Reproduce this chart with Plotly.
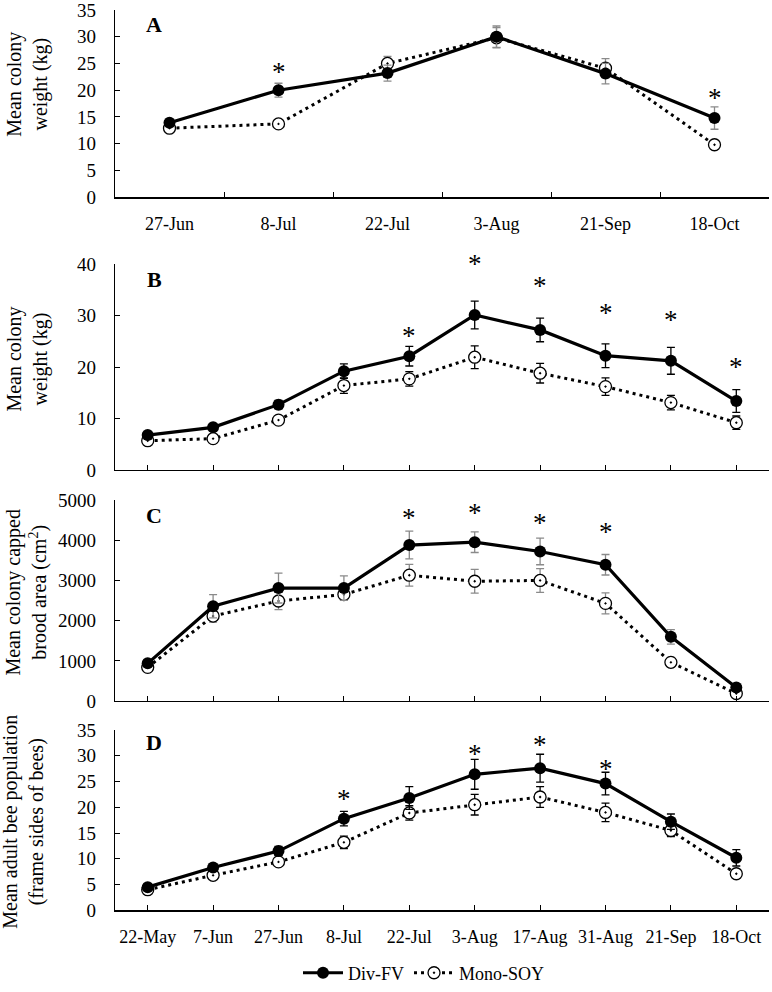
import plotly.graph_objects as go

FONT = "Liberation Serif, Times New Roman, serif"

# ---------------- data ----------------
dates_a = ["27-Jun", "8-Jul", "22-Jul", "3-Aug", "21-Sep", "18-Oct"]
a_div = [13.9, 20.0, 23.2, 30.0, 23.1, 14.8]
a_div_err = [0.7, 1.3, 1.5, 2.0, 1.9, 2.1]
a_mono = [12.9, 13.7, 25.0, 29.8, 24.1, 9.8]
a_mono_err = [0.5, 0.5, 1.3, 1.9, 1.8, 0.8]
a_star_x = ["8-Jul", "18-Oct"]
a_star_y = [24.4, 19.5]

dates = ["22-May", "7-Jun", "27-Jun", "8-Jul", "22-Jul", "3-Aug", "17-Aug",
         "31-Aug", "21-Sep", "18-Oct"]

b_div = [6.8, 8.3, 12.7, 19.2, 22.1, 30.1, 27.2, 22.2, 21.2, 13.4]
b_div_err = [0.5, 0.5, 0.8, 1.4, 1.9, 2.7, 2.3, 2.3, 2.6, 2.2]
b_mono = [5.7, 6.1, 9.7, 16.4, 17.7, 21.9, 18.8, 16.2, 13.1, 9.2]
b_mono_err = [0.4, 0.4, 0.6, 1.5, 1.4, 2.2, 1.9, 1.7, 1.4, 1.3]
b_star_x = ["22-Jul", "3-Aug", "17-Aug", "31-Aug", "21-Sep", "18-Oct"]
b_star_y = [26.9, 40.9, 36.6, 31.5, 30.0, 21.0]

c_div = [940, 2360, 2810, 2810, 3880, 3950, 3720, 3390, 1600, 340]
c_div_err = [80, 290, 370, 305, 345, 255, 330, 255, 180, 50]
c_mono = [840, 2115, 2490, 2650, 3130, 2980, 3000, 2430, 965, 190]
c_mono_err = [50, 150, 215, 100, 270, 295, 295, 260, 120, 50]
c_star_x = ["22-Jul", "3-Aug", "17-Aug", "31-Aug"]
c_star_y = [4670, 4790, 4560, 4340]

d_div = [4.5, 8.3, 11.5, 17.8, 21.8, 26.4, 27.6, 24.6, 17.2, 10.2]
d_div_err = [0.6, 0.7, 0.9, 1.4, 2.2, 2.9, 2.7, 2.2, 1.5, 1.6]
d_mono = [4.0, 6.8, 9.4, 13.2, 18.9, 20.5, 22.0, 19.0, 15.5, 7.1]
d_mono_err = [0.5, 0.6, 0.7, 1.2, 1.4, 2.0, 2.0, 1.8, 1.2, 0.8]
d_star_x = ["8-Jul", "3-Aug", "17-Aug", "31-Aug"]
d_star_y = [22.6, 31.4, 33.0, 28.5]

panels = [
    dict(x=dates_a, div=a_div, dive=a_div_err, mono=a_mono, monoe=a_mono_err,
         sx=a_star_x, sy=a_star_y, ecol="#8a8a8a", letter="A",
         title="Mean colony<br>weight (kg)", yr=[0, 35], dt=5),
    dict(x=dates, div=b_div, dive=b_div_err, mono=b_mono, monoe=b_mono_err,
         sx=b_star_x, sy=b_star_y, ecol="black", letter="B",
         title="Mean colony<br>weight (kg)", yr=[0, 40], dt=10),
    dict(x=dates, div=c_div, dive=c_div_err, mono=c_mono, monoe=c_mono_err,
         sx=c_star_x, sy=c_star_y, ecol="#8a8a8a", letter="C",
         title="Mean colony capped<br>brood area (cm<sup>2</sup>)", yr=[0, 5000], dt=1000),
    dict(x=dates, div=d_div, dive=d_div_err, mono=d_mono, monoe=d_mono_err,
         sx=d_star_x, sy=d_star_y, ecol="black", letter="D",
         title="Mean adult bee population<br>(frame sides of bees)", yr=[0, 35], dt=5),
]

W, H = 772, 992


def px(v):
    return v / W


def py(v):
    return 1 - v / H


# layout boxes (page pixels)
ybox = [(10, 198), (265, 472), (502, 704), (733, 914)]
xbox = (115, 769)
letter_y = [25, 281, 518, 746]
title_c = [(28, 84), (28, 360), (27, 595), (24, 825)]

fig = go.Figure()
layout = dict(
    width=W, height=H,
    margin=dict(l=0, r=0, t=0, b=0),
    paper_bgcolor="white", plot_bgcolor="white",
    font=dict(family=FONT, size=18, color="black"),
    showlegend=True,
    legend=dict(orientation="h", x=px(424), xanchor="center", y=py(977),
                yanchor="middle", font=dict(size=18, family=FONT),
                bgcolor="rgba(0,0,0,0)", itemwidth=40),
)
annotations = []

for i, p in enumerate(panels):
    n = "" if i == 0 else str(i + 1)
    xa, ya = "x" + n, "y" + n
    last = i == 3
    fig.add_trace(go.Scatter(
        x=p["x"], y=p["mono"], xaxis=xa, yaxis=ya, name="Mono-SOY",
        mode="lines+markers", showlegend=last, legendrank=2,
        line=dict(color="black", width=3, dash="3px,4px"),
        marker=dict(symbol="circle-dot", size=12, color="white",
                    line=dict(color="black", width=1.3)),
        error_y=dict(type="data", array=p["monoe"], visible=True,
                     color=p["ecol"], thickness=1.3, width=4),
        cliponaxis=False,
    ))
    fig.add_trace(go.Scatter(
        x=p["x"], y=p["div"], xaxis=xa, yaxis=ya, name="Div-FV",
        mode="lines+markers", showlegend=last, legendrank=1,
        line=dict(color="black", width=3.2),
        marker=dict(symbol="circle", size=12, color="black"),
        error_y=dict(type="data", array=p["dive"], visible=True,
                     color=p["ecol"], thickness=1.3, width=4),
        cliponaxis=False,
    ))
    top, bot = ybox[i]
    xaxis = dict(
        domain=[px(xbox[0]), px(xbox[1])],
        anchor=ya, type="category", categoryorder="array", categoryarray=p["x"],
        range=[-0.5, len(p["x"]) - 0.5],
        showline=True, linecolor="black", linewidth=1.3,
        ticks="inside", ticklen=5, tickcolor="black", tickwidth=1,
        showgrid=False, zeroline=False, automargin=False,
        showticklabels=(i == 0 or last), ticklabelstandoff=10,
        tickfont=dict(size=18, family=FONT),
        fixedrange=True,
    )
    if i == 0:
        xaxis["tickson"] = "boundaries"
    yaxis = dict(
        domain=[py(bot), py(top)], anchor=xa,
        range=p["yr"], dtick=p["dt"], tick0=0,
        showline=True, linecolor="black", linewidth=1.3,
        ticks="inside", ticklen=5, tickcolor="black", tickwidth=1,
        showgrid=False, zeroline=False, automargin=False,
        ticklabelstandoff=14, tickfont=dict(size=19, family=FONT),
        ticklabeloverflow="allow",
        fixedrange=True,
    )
    layout["xaxis" + n] = xaxis
    layout["yaxis" + n] = yaxis

    # significance asterisks (domain-relative so they may sit above the axis top)
    for sx, sy in zip(p["sx"], p["sy"]):
        annotations.append(dict(
            x=sx, y=sy / p["yr"][1], xref=xa, yref=ya + " domain",
            text="*", showarrow=False, xanchor="center", yanchor="middle",
            font=dict(size=27, family=FONT), yshift=-5,
        ))
    # panel letter
    annotations.append(dict(
        x=px(154), y=py(letter_y[i]), xref="paper", yref="paper",
        xanchor="center", yanchor="middle",
        text="<b>%s</b>" % p["letter"], showarrow=False,
        font=dict(size=22, family=FONT),
    ))
    # y-axis title
    tx, ty = title_c[i]
    annotations.append(dict(
        x=px(tx), y=py(ty), xref="paper", yref="paper",
        text=p["title"], textangle=-90, showarrow=False,
        font=dict(size=20, family=FONT),
        xanchor="center", yanchor="middle",
    ))

layout["annotations"] = annotations
fig.update_layout(**layout)
# remove the default 8px page margin so the figure fills the window
fig.write_html(
    "out.html",
    config={"displayModeBar": False, "staticPlot": True},
    post_script="document.body.style.margin='0';document.body.style.overflow='hidden';",
)
